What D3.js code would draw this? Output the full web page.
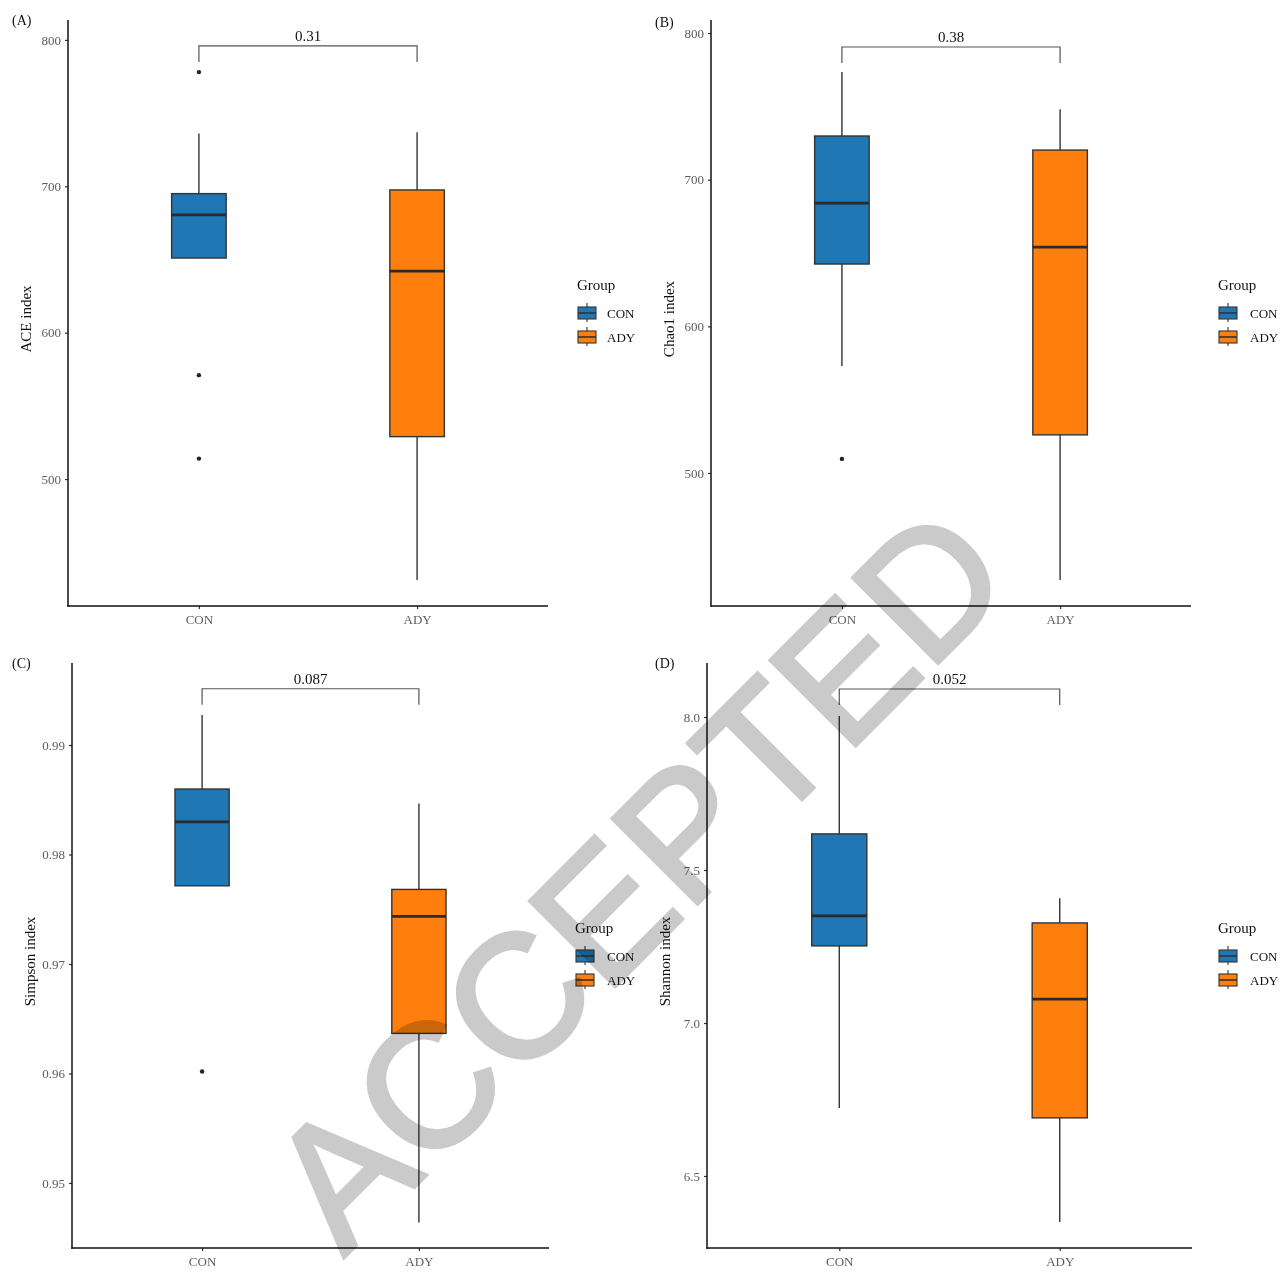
<!DOCTYPE html>
<html>
<head>
<meta charset="utf-8">
<script src="https://d3js.org/d3.v7.min.js"></script>
<style>
  html, body { margin: 0; padding: 0; background: #fff; }
  svg { display: block; }
  text { font-family: "Liberation Serif", "Times New Roman", serif; }
</style>
</head>
<body>
<svg id="fig" width="1282" height="1273"></svg>
<script>
// Groups on the x axis
const groups = ["CON", "ADY"];
const groupColors = ["#1f77b4", "#ff7f0e"];

// Box statistics per group: [lower whisker, Q1, median, Q3, upper whisker]
const aceCON = [651, 651, 680.5, 695, 736];
const aceADY = [431, 529, 642, 697.5, 737];
const aceCONOutliers = [778, 571, 514];
const aceADYOutliers = [];

const chaoCON = [573, 642.5, 684, 729.8, 773.4];
const chaoADY = [427, 526, 654, 720.2, 748];
const chaoCONOutliers = [509.6];
const chaoADYOutliers = [];

const simpsonCON = [0.97714, 0.97714, 0.98298, 0.98598, 0.99274];
const simpsonADY = [0.94640, 0.96366, 0.97434, 0.97681, 0.98466];
const simpsonCONOutliers = [0.96018];
const simpsonADYOutliers = [];

const shannonCON = [6.722, 7.252, 7.350, 7.618, 8.003];
const shannonADY = [6.350, 6.690, 7.078, 7.327, 7.408];
const shannonCONOutliers = [];
const shannonADYOutliers = [];

// Tick values per panel
const aceTicks = [500, 600, 700, 800];
const chaoTicks = [500, 600, 700, 800];
const simpsonTicks = [0.95, 0.96, 0.97, 0.98, 0.99];
const shannonTicks = [6.5, 7.0, 7.5, 8.0];

// Wilcoxon p-values shown on the brackets
const pValues = ["0.31", "0.38", "0.087", "0.052"];

// Panel frames (plot area in page pixels) and value domains
const panels = [
  { tag: "(A)", title: "ACE index", stats: [aceCON, aceADY], out: [aceCONOutliers, aceADYOutliers],
    ticks: aceTicks, fmt: d3.format("d"), domain: [413.3, 813.6], p: pValues[0], bracket: 795.9,
    x0: 68, x1: 548, y0: 20, y1: 606, tagX: 12, tagY: 25, legendX: 577, legendY: 290, keyGap: 30 },
  { tag: "(B)", title: "Chao1 index", stats: [chaoCON, chaoADY], out: [chaoCONOutliers, chaoADYOutliers],
    ticks: chaoTicks, fmt: d3.format("d"), domain: [409.3, 808.9], p: pValues[1], bracket: 790.5,
    x0: 711, x1: 1191, y0: 20, y1: 606, tagX: 655, tagY: 27, legendX: 1218, legendY: 290, keyGap: 32 },
  { tag: "(C)", title: "Simpson index", stats: [simpsonCON, simpsonADY], out: [simpsonCONOutliers, simpsonADYOutliers],
    ticks: simpsonTicks, fmt: d3.format(".2f"), domain: [0.94406, 0.99749], p: pValues[2], bracket: 0.99514,
    x0: 72, x1: 549, y0: 663, y1: 1248, tagX: 12, tagY: 668, legendX: 575, legendY: 933, keyGap: 32 },
  { tag: "(D)", title: "Shannon index", stats: [shannonCON, shannonADY], out: [shannonCONOutliers, shannonADYOutliers],
    ticks: shannonTicks, fmt: d3.format(".1f"), domain: [6.2647, 8.1765], p: pValues[3], bracket: 8.0915,
    x0: 707, x1: 1192, y0: 663, y1: 1248, tagX: 655, tagY: 668, legendX: 1218, legendY: 933, keyGap: 32 }
];

const svg = d3.select("#fig");

panels.forEach(pn => {
  const g = svg.append("g");
  const x = d3.scalePoint().domain(groups).range([pn.x0, pn.x1]).padding(0.6);
  const y = d3.scaleLinear().domain(pn.domain).range([pn.y1, pn.y0]);
  const bw = x.step() * 0.25;

  // Panel tag
  g.append("text").attr("x", pn.tagX).attr("y", pn.tagY)
    .attr("font-size", 14).attr("fill", "#111").text(pn.tag);

  // Y axis
  const yAxis = d3.axisLeft(y).tickValues(pn.ticks).tickFormat(pn.fmt).tickSize(3).tickPadding(4);
  const ya = g.append("g").attr("transform", `translate(${pn.x0},0)`).call(yAxis);
  ya.select(".domain").remove();
  ya.selectAll(".tick line").attr("stroke", "#333").attr("stroke-width", 1.2);
  ya.selectAll(".tick text").attr("fill", "#5c5c5c").attr("font-size", 13)
    .attr("font-family", "Liberation Serif, serif");
  g.append("line").attr("x1", pn.x0).attr("x2", pn.x0).attr("y1", pn.y0).attr("y2", pn.y1 + 0.75)
    .attr("stroke", "#111").attr("stroke-width", 1.5);

  // X axis
  const xAxis = d3.axisBottom(x).tickSize(3).tickPadding(6);
  const xa = g.append("g").attr("transform", `translate(0,${pn.y1})`).call(xAxis);
  xa.select(".domain").remove();
  xa.selectAll(".tick line").attr("stroke", "#333").attr("stroke-width", 1.2);
  xa.selectAll(".tick text").attr("fill", "#5c5c5c").attr("font-size", 13)
    .attr("font-family", "Liberation Serif, serif");
  g.append("line").attr("x1", pn.x0 - 0.75).attr("x2", pn.x1).attr("y1", pn.y1).attr("y2", pn.y1)
    .attr("stroke", "#111").attr("stroke-width", 1.5);

  // Y axis title
  g.append("text")
    .attr("transform", `translate(${pn.x0 - 37},${(pn.y0 + pn.y1) / 2 + 6}) rotate(-90)`)
    .attr("text-anchor", "middle").attr("font-size", 15).attr("fill", "#111").text(pn.title);

  // Boxes
  groups.forEach((grp, i) => {
    const s = pn.stats[i];
    const cx = x(grp);
    // whiskers
    g.append("line").attr("x1", cx).attr("x2", cx).attr("y1", y(s[3])).attr("y2", y(s[4]))
      .attr("stroke", "#333").attr("stroke-width", 1.4);
    g.append("line").attr("x1", cx).attr("x2", cx).attr("y1", y(s[1])).attr("y2", y(s[0]))
      .attr("stroke", "#333").attr("stroke-width", 1.4);
    // box
    g.append("rect").attr("x", cx - bw / 2).attr("width", bw)
      .attr("y", y(s[3])).attr("height", y(s[1]) - y(s[3]))
      .attr("fill", groupColors[i]).attr("stroke", "#333").attr("stroke-width", 1.4);
    // median
    g.append("line").attr("x1", cx - bw / 2).attr("x2", cx + bw / 2)
      .attr("y1", y(s[2])).attr("y2", y(s[2]))
      .attr("stroke", "#2b2b2b").attr("stroke-width", 2.8);
    // outliers
    g.selectAll(null).data(pn.out[i]).enter().append("circle")
      .attr("cx", cx).attr("cy", d => y(d)).attr("r", 2.2).attr("fill", "#222");
  });

  // Significance bracket
  const by = y(pn.bracket);
  const cA = x(groups[0]), cB = x(groups[1]);
  g.append("path")
    .attr("d", `M${cA},${by + 16}V${by}H${cB}V${by + 16}`)
    .attr("fill", "none").attr("stroke", "#555").attr("stroke-width", 1.2);
  g.append("text").attr("x", (cA + cB) / 2).attr("y", by - 5)
    .attr("text-anchor", "middle").attr("font-size", 15).attr("fill", "#111").text(pn.p);

  // Legend
  const lg = g.append("g").attr("transform", `translate(${pn.legendX},${pn.legendY})`);
  lg.append("text").attr("x", 0).attr("y", 0).attr("font-size", 15).attr("fill", "#111").text("Group");
  groups.forEach((grp, i) => {
    const ky = 16 + i * 24;
    const kg = lg.append("g").attr("transform", `translate(0,${ky})`);
    kg.append("line").attr("x1", 10).attr("x2", 10).attr("y1", -3).attr("y2", 16)
      .attr("stroke", "#333").attr("stroke-width", 1.1);
    kg.append("rect").attr("x", 1).attr("y", 1).attr("width", 18).attr("height", 12)
      .attr("fill", groupColors[i]).attr("stroke", "#333").attr("stroke-width", 1.1);
    kg.append("line").attr("x1", 1).attr("x2", 19).attr("y1", 7).attr("y2", 7)
      .attr("stroke", "#333").attr("stroke-width", 1.6);
    kg.append("text").attr("x", pn.keyGap).attr("y", 11.5).attr("font-size", 13).attr("fill", "#111").text(grp);
  });
});

// Diagonal "ACCEPTED" stamp laid over the figure (multiplied so marks stay visible)
svg.append("text")
  .attr("transform", "translate(636,876) rotate(-45)")
  .attr("text-anchor", "middle").attr("dy", "0.36em")
  .style("font-family", "Liberation Sans, Arial, sans-serif")
  .style("mix-blend-mode", "multiply")
  .attr("font-size", 175)
  .attr("fill", "#cacaca").attr("stroke", "#cacaca").attr("stroke-width", 4)
  .text("ACCEPTED");
</script>
</body>
</html>
